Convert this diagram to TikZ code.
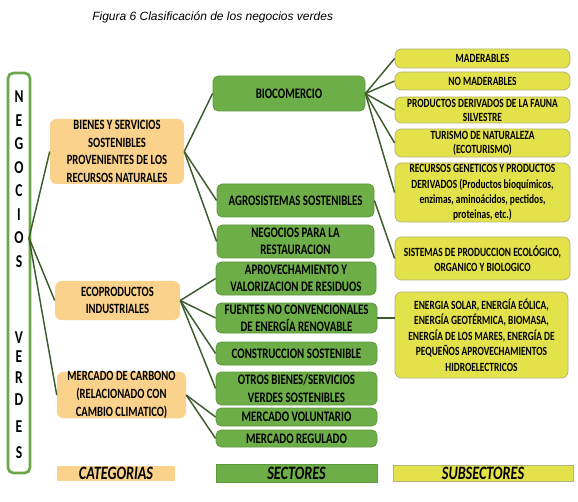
\documentclass[tikz,border=0pt]{standalone}
\usepackage{fontspec}
\setmainfont{Liberation Sans}
\newfontfamily\bx[FakeStretch=0.75]{Carlito}
\definecolor{gfill}{HTML}{6EAE49}
\definecolor{gdraw}{HTML}{5E9A3C}
\definecolor{ofill}{HTML}{FAD28C}
\definecolor{yfill}{HTML}{E4E24A}
\definecolor{ydraw}{HTML}{B3B27A}
\definecolor{lnk}{HTML}{3D5C2C}
\definecolor{lbord}{HTML}{6AA84A}
\newcommand{\mybox}[7]{\node[#1, minimum width={(#5-#3)*0.75pt}, minimum height={(#6-#4)*0.75pt}] (#2) at ({(#3+#5)/2},{(#4+#6)/2}) {#7};}
\begin{document}
\begin{tikzpicture}[x=0.75pt,y=-0.75pt,
 base/.style={inner sep=0pt, align=center, text=black},
 catf/.style={font=\bx\bfseries\fontsize{10.6}{13.2}\selectfont},
 secf/.style={font=\bx\bfseries\fontsize{10.9}{13}\selectfont},
 subf/.style={font=\bx\bfseries\fontsize{9.4}{10.5}\selectfont},
 cat/.style={base, catf, fill=ofill, rounded corners=5pt},
 sec/.style={base, secf, fill=gfill, draw=gdraw, line width=0.6pt, rounded corners=4pt},
 sub/.style={base, subf, fill=yfill, draw=ydraw, line width=0.6pt, rounded corners=5pt},
 legend/.style={base, font=\bx\bfseries\itshape\fontsize{14.2}{15}\selectfont},
 link/.style={draw=lnk, line width=1.1pt},
 letter/.style={font=\bx\bfseries\fontsize{13.6}{13.6}\selectfont, inner sep=0pt}
]
\useasboundingbox (0,0) rectangle (578,502);
\fill[white] (0,0) rectangle (578,502);

% title
\node[anchor=west, inner sep=0pt, font=\itshape\fontsize{9}{11}\selectfont] (title) at (92,17) {Figura 6 Clasificación de los negocios verdes};

% left box
\mybox{inner sep=0pt, draw=lbord, line width=2pt, rounded corners=4pt, fill=white}{neg}{8}{73}{30}{473}{}
\foreach \l/\yy [count=\i] in {N/97,E/120.5,G/144,O/167.5,C/191,I/214.5,O/238,S/261.5,V/338,E/357,R/378,D/400,E/427,S/453}
  \node[letter] (L\i) at (19,\yy) {\l};
\coordinate (lo) at (29,238);

% categories
\mybox{cat}{bienes}{50}{119}{184}{184}{BIENES Y SERVICIOS\\SOSTENIBLES\\PROVENIENTES DE LOS\\RECURSOS NATURALES}
\mybox{cat}{eco}{55}{281}{180}{320}{ECOPRODUCTOS\\INDUSTRIALES}
\mybox{cat}{merc}{57}{372}{186}{418}{MERCADO DE CARBONO\\(RELACIONADO CON\\CAMBIO CLIMATICO)}
\mybox{legend, fill=ofill}{catl}{57}{466}{175}{481}{CATEGORIAS}

% sectors
\mybox{sec}{bio}{213}{76}{365}{111}{BIOCOMERCIO}
\mybox{sec}{agro}{217}{184}{374}{217}{AGROSISTEMAS SOSTENIBLES}
\mybox{sec}{rest}{217}{225}{374}{258}{NEGOCIOS PARA LA\\RESTAURACION}
\mybox{sec}{apro}{216}{262}{376}{295}{APROVECHAMIENTO Y\\VALORIZACION DE RESIDUOS}
\mybox{sec}{fuen}{216}{303}{377}{333}{FUENTES NO CONVENCIONALES\\DE ENERGÍA RENOVABLE}
\mybox{sec}{cons}{216}{342}{377}{365}{CONSTRUCCION SOSTENIBLE}
\mybox{sec}{otros}{216}{372}{377}{405}{OTROS BIENES/SERVICIOS\\VERDES SOSTENIBLES}
\mybox{sec}{vol}{216}{408}{377}{426}{MERCADO VOLUNTARIO}
\mybox{sec}{reg}{216}{430}{377}{447}{MERCADO REGULADO}
\mybox{legend, fill=gfill, draw=gdraw, line width=0.6pt}{secl}{216}{464}{377}{482}{SECTORES}

% subsectors
\mybox{sub}{mad}{395}{49}{570}{68}{MADERABLES}
\mybox{sub}{nomad}{395}{72}{570}{90}{NO MADERABLES}
\mybox{sub}{fauna}{395}{97}{570}{123}{PRODUCTOS DERIVADOS DE LA FAUNA\\SILVESTRE}
\mybox{sub}{tur}{395}{129}{570}{157}{TURISMO DE NATURALEZA\\(ECOTURISMO)}
\mybox{sub, font=\bx\bfseries\fontsize{9.4}{11.4}\selectfont}{rec}{395}{163}{570}{222}{RECURSOS GENETICOS Y PRODUCTOS\\DERIVADOS (Productos bioquímicos,\\enzimas, aminoácidos, pectidos,\\proteinas, etc.)}
\mybox{sub, font=\bx\bfseries\fontsize{9.4}{11}\selectfont}{sis}{395}{237}{570}{280}{SISTEMAS DE PRODUCCION ECOLÓGICO,\\ORGANICO Y BIOLOGICO}
\mybox{sub, font=\bx\bfseries\fontsize{9.4}{11.6}\selectfont}{ener}{395}{292}{568}{378}{ENERGIA SOLAR, ENERGÍA EÓLICA,\\ENERGÍA GEOTÉRMICA, BIOMASA,\\ENERGÍA DE LOS MARES, ENERGÍA DE\\PEQUEÑOS APROVECHAMIENTOS\\HIDROELECTRICOS}
\mybox{legend, fill=yfill, draw=ydraw, line width=0.6pt}{subl}{393}{465}{573}{481}{SUBSECTORES}

% connectors
\foreach \t in {bienes,eco,merc} \draw[link] (lo) -- (\t.west);
\foreach \t in {bio,agro,rest} \draw[link] (bienes.east) -- (\t.west);
\foreach \t in {apro,fuen,cons,otros} \draw[link] (eco.east) -- (\t.west);
\foreach \t in {vol,reg} \draw[link] (merc.east) -- (\t.west);
\foreach \t in {mad,nomad,fauna,tur,rec} \draw[link] (bio.east) -- (\t.west);
\draw[link] (agro.east) -- (sis.west);
\draw[link] (fuen.east) -- (fuen.east -| ener.west);
\end{tikzpicture}
\end{document}
